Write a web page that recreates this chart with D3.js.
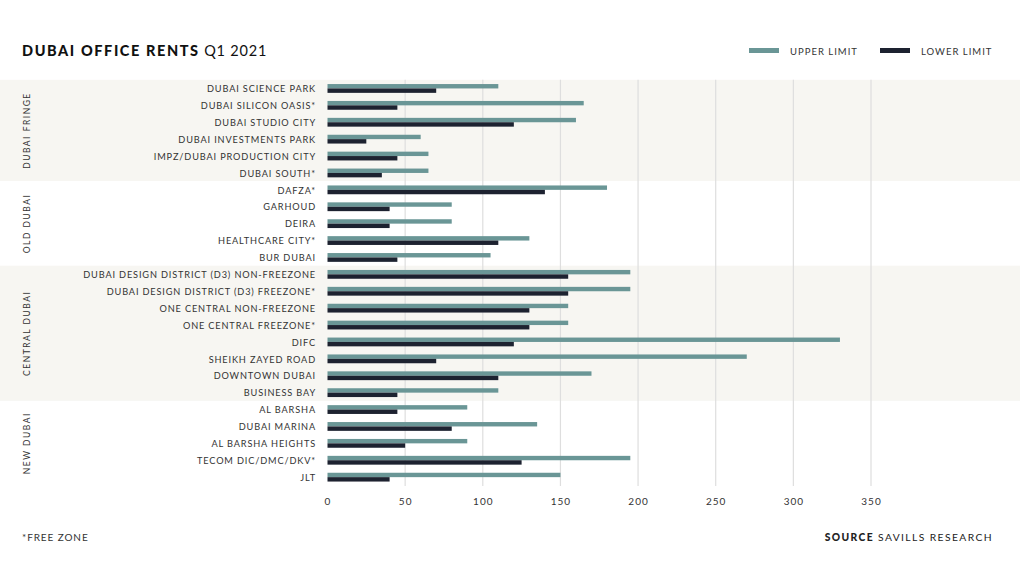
<!DOCTYPE html>
<html>
<head>
<meta charset="utf-8">
<script src="https://cdn.jsdelivr.net/npm/d3@7"></script>
<style>
  html, body { margin: 0; padding: 0; background: #fff; }
  svg { display: block; font-family: "Lato", "Open Sans", sans-serif; }
</style>
</head>
<body>
<svg id="chart" width="1032" height="566"></svg>
<script>
const categories = [
  "DUBAI SCIENCE PARK", "DUBAI SILICON OASIS*", "DUBAI STUDIO CITY", "DUBAI INVESTMENTS PARK",
  "IMPZ/DUBAI PRODUCTION CITY", "DUBAI SOUTH*",
  "DAFZA*", "GARHOUD", "DEIRA", "HEALTHCARE CITY*", "BUR DUBAI",
  "DUBAI DESIGN DISTRICT (D3) NON-FREEZONE", "DUBAI DESIGN DISTRICT (D3) FREEZONE*",
  "ONE CENTRAL NON-FREEZONE", "ONE CENTRAL FREEZONE*", "DIFC", "SHEIKH ZAYED ROAD",
  "DOWNTOWN DUBAI", "BUSINESS BAY",
  "AL BARSHA", "DUBAI MARINA", "AL BARSHA HEIGHTS", "TECOM DIC/DMC/DKV*", "JLT"
];
const upperLimit = [110, 165, 160, 60, 65, 65, 180, 80, 80, 130, 105, 195, 195, 155, 155, 330, 270, 170, 110, 90, 135, 90, 195, 150];
const lowerLimit = [70, 45, 120, 25, 45, 35, 140, 40, 40, 110, 45, 155, 155, 130, 130, 120, 70, 110, 45, 45, 80, 50, 125, 40];
const groups = ["DUBAI FRINGE", "OLD DUBAI", "CENTRAL DUBAI", "NEW DUBAI"];
const groupSizes = [6, 5, 8, 5];
const xTicks = [0, 50, 100, 150, 200, 250, 300, 350];
const seriesNames = ["UPPER LIMIT", "LOWER LIMIT"];

const colors = { upper: "#6a9696", lower: "#1d2230", band: "#f7f6f2", grid: "#dedede", text: "#333" };

const svg = d3.select("#chart");

const x = d3.scaleLinear().domain([0, 350]).range([327.5, 871]);
const y = d3.scaleBand().domain(categories).range([79.8, 79.8 + 16.9 * categories.length]).paddingInner(0).paddingOuter(0);
const sub = d3.scaleBand().domain(["upper", "lower"]).range([y.bandwidth() / 2 - 4.2, y.bandwidth() / 2 + 4.6]);

// group bands
let start = 0;
const groupInfo = groups.map((g, i) => {
  const s = start; start += groupSizes[i];
  return { name: g, first: categories[s], last: categories[start - 1], idx: i };
});
svg.append("g").selectAll("rect").data(groupInfo).join("rect")
  .attr("x", 0).attr("width", 1020)
  .attr("y", d => y(d.first))
  .attr("height", d => y(d.last) + y.bandwidth() - y(d.first))
  .attr("fill", d => d.idx % 2 === 0 ? colors.band : "#fff");

// group labels
svg.append("g").selectAll("text").data(groupInfo).join("text")
  .attr("transform", d => `translate(30, ${(y(d.first) + y(d.last) + y.bandwidth()) / 2}) rotate(-90)`)
  .attr("text-anchor", "middle")
  .attr("font-size", 8.5)
  .attr("letter-spacing", 1.5)
  .attr("fill", colors.text)
  .text(d => d.name);

// gridlines
svg.append("g").selectAll("line").data(xTicks.filter(t => t > 0)).join("line")
  .attr("x1", d => x(d)).attr("x2", d => x(d))
  .attr("y1", 79.8).attr("y2", 486)
  .attr("stroke", colors.grid).attr("stroke-width", 1.2);

// x axis
const xAxis = svg.append("g").attr("transform", "translate(0, 505)")
  .call(d3.axisBottom(x).tickValues(xTicks).tickSize(0).tickPadding(0));
xAxis.select(".domain").remove();
xAxis.selectAll("text").attr("font-size", 10).attr("fill", colors.text)
  .attr("letter-spacing", 1).attr("font-family", "Lato, sans-serif").attr("dy", 0);

// category labels
const yAxis = svg.append("g").attr("transform", "translate(316,0)")
  .call(d3.axisLeft(y).tickSize(0).tickPadding(0));
yAxis.select(".domain").remove();
yAxis.selectAll("text").attr("font-size", 9.2).attr("fill", colors.text)
  .attr("letter-spacing", 0.85).attr("font-family", "Lato, sans-serif").attr("dy", "0.42em");

// bars
const rows = categories.map((c, i) => ({ c, upper: upperLimit[i], lower: lowerLimit[i] }));
const barG = svg.append("g");
barG.selectAll("rect.upper").data(rows).join("rect").attr("class", "upper")
  .attr("x", x(0)).attr("y", d => y(d.c) + sub("upper"))
  .attr("width", d => x(d.upper) - x(0)).attr("height", sub.bandwidth())
  .attr("fill", colors.upper);
barG.selectAll("rect.lower").data(rows).join("rect").attr("class", "lower")
  .attr("x", x(0)).attr("y", d => y(d.c) + sub("lower"))
  .attr("width", d => x(d.lower) - x(0)).attr("height", sub.bandwidth())
  .attr("fill", colors.lower);

// title
const title = svg.append("text").attr("x", 22).attr("y", 56).attr("font-size", 14.5)
  .attr("fill", "#111");
title.append("tspan").attr("font-weight", 900).attr("letter-spacing", 1.6).text("DUBAI OFFICE RENTS");
title.append("tspan").attr("font-weight", 400).attr("letter-spacing", 0.8).text(" Q1 2021");

// legend
const legend = svg.append("g");
const legendItems = [
  { name: seriesNames[0], color: colors.upper, x: 749 },
  { name: seriesNames[1], color: colors.lower, x: 880 }
];
legend.selectAll("rect").data(legendItems).join("rect")
  .attr("x", d => d.x).attr("y", 48).attr("width", 30).attr("height", 5)
  .attr("fill", d => d.color);
legend.selectAll("text").data(legendItems).join("text")
  .attr("x", d => d.x + 41).attr("y", 54.5).attr("font-size", 9.5)
  .attr("letter-spacing", 1).attr("fill", colors.text)
  .text(d => d.name);

// footer
svg.append("text").attr("x", 22).attr("y", 540.5).attr("font-size", 10)
  .attr("letter-spacing", 0.9).attr("fill", colors.text).text("*FREE ZONE");
const src = svg.append("text").attr("x", 993).attr("y", 540.5).attr("text-anchor", "end")
  .attr("font-size", 10.3).attr("letter-spacing", 1.4).attr("fill", "#222");
src.append("tspan").attr("font-weight", 900).text("SOURCE");
src.append("tspan").attr("font-weight", 400).text(" SAVILLS RESEARCH");
</script>
</body>
</html>
